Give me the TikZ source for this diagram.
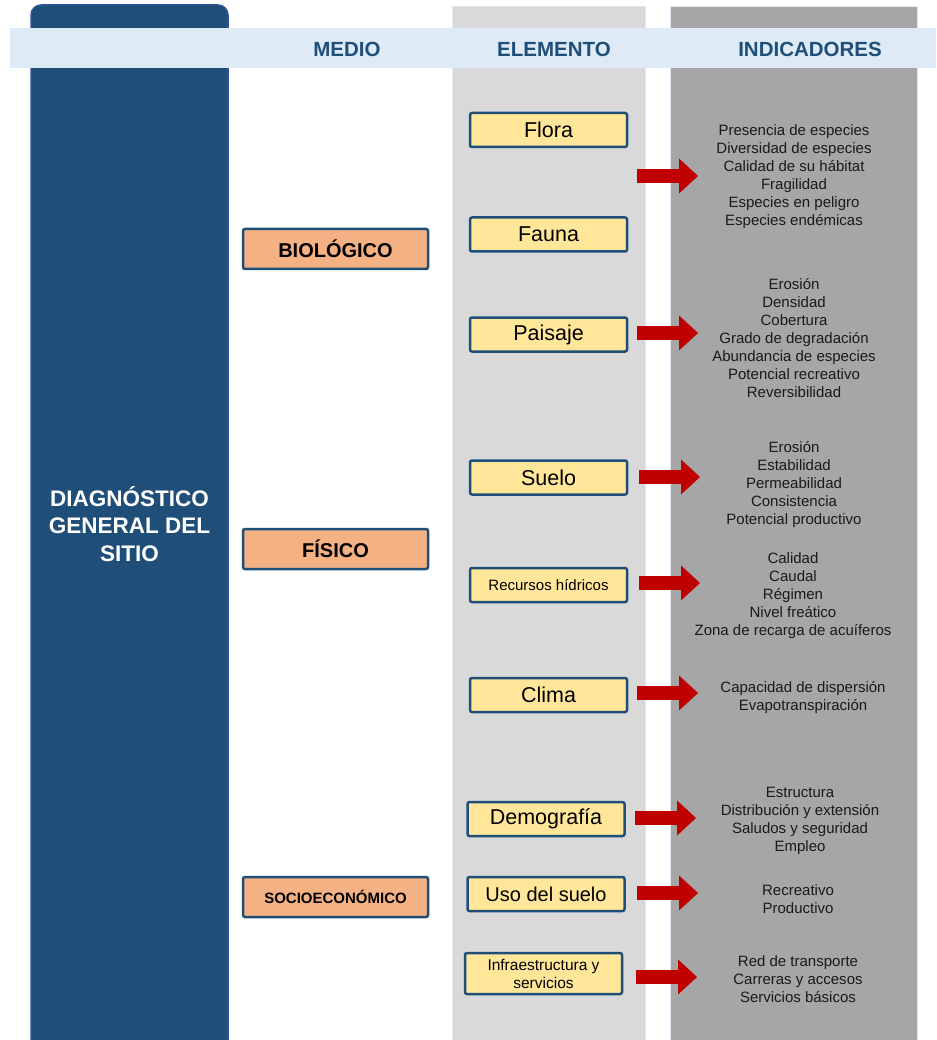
\documentclass[tikz,border=0pt]{standalone}
\usepackage{fontspec}
\setmainfont{Liberation Sans}
\usetikzlibrary{arrows.meta}
\definecolor{navy}{HTML}{1F4E79}
\definecolor{navyedge}{HTML}{2F5597}
\definecolor{band}{HTML}{DEEBF7}
\definecolor{colA}{HTML}{D9D9D9}
\definecolor{colB}{HTML}{A6A6A6}
\definecolor{medfill}{HTML}{F4B183}
\definecolor{elfill}{HTML}{FFE699}
\definecolor{arrowred}{HTML}{C00000}
\definecolor{inktext}{HTML}{1A1A1A}
\begin{document}
\begin{tikzpicture}[x=1pt,y=-1pt,
  head/.style={text=navy,font=\bfseries\fontsize{20.5}{24}\selectfont},
  medbox/.style={draw=navy,line width=2.5pt,fill=medfill,rounded corners=2pt,
    minimum width=185pt,minimum height=40pt,inner sep=0pt,
    font=\bfseries\fontsize{20}{24}\selectfont},
  elbox/.style={draw=navy,line width=2.5pt,fill=elfill,rounded corners=2pt,
    minimum width=157pt,minimum height=34pt,inner sep=0pt,align=center,
    font=\fontsize{21.5}{24}\selectfont},
  small/.style={font=\fontsize{15}{18}\selectfont},
  ind/.style={align=center,text=inktext,inner sep=0pt,font=\fontsize{15}{18}\selectfont},
  blockarrow/.style={draw=arrowred,line width=14pt,
    -{Triangle[width=35pt,length=19pt,line width=0pt]}}]
\useasboundingbox (0,0) rectangle (936,1040);
\clip (0,0) rectangle (936,1040);

% background columns
\filldraw[fill=navy,draw=navyedge,line width=1.5pt,rounded corners=10pt] (31,5) rectangle (228,1070);
\filldraw[fill=colA,draw=band,line width=1pt] (452,7) rectangle (645,1070);
\filldraw[fill=colB,draw=band,line width=1pt] (670,7) rectangle (917,1070);
% header band
\fill[band] (10,28) rectangle (936,68);
\node[head] (hmedio) at (347,49) {MEDIO};
\node[head] (helem) at (554,49) {ELEMENTO};
\node[head] (hind) at (810,49) {INDICADORES};

% main title
\node[text=white,align=center,font=\bfseries\fontsize{22.5}{27.5}\selectfont] (diag) at (129.5,524)
  {DIAGNÓSTICO\\GENERAL DEL\\SITIO};

% medio
\node[medbox] (bio) at (335.5,249) {BIOLÓGICO};
\node[medbox] (fis) at (335.5,549) {FÍSICO};
\node[medbox,font=\bfseries\fontsize{15}{18}\selectfont] (soc) at (335.5,897) {SOCIOECONÓMICO};

% elementos
\node[elbox] (flora) at (548.5,130) {Flora};
\node[elbox] (fauna) at (548.5,234.5) {Fauna};
\node[elbox] (paisaje) at (548.5,334.5) {Paisaje};
\node[elbox] (suelo) at (548.5,477.5) {Suelo};
\node[elbox,small] (hidro) at (548.5,585) {Recursos hídricos};
\node[elbox] (clima) at (548.5,695) {Clima};
\node[elbox] (demo) at (546,819) {Demografía};
\node[elbox,font=\fontsize{20}{24}\selectfont] (uso) at (546,894) {Uso del suelo};
\node[elbox,small,minimum height=41pt,font=\fontsize{15.5}{18}\selectfont] (infra) at (543.5,973.5) {Infraestructura y\\servicios};

% indicadores
\node[ind] (i1) at (794,176.5) {Presencia de especies\\Diversidad de especies\\Calidad de su hábitat\\Fragilidad\\Especies en peligro\\Especies endémicas};
\node[ind] (i2) at (794,338.5) {Erosión\\Densidad\\Cobertura\\Grado de degradación\\Abundancia de especies\\Potencial recreativo\\Reversibilidad};
\node[ind] (i3) at (794,484.5) {Erosión\\Estabilidad\\Permeabilidad\\Consistencia\\Potencial productivo};
\node[ind] (i4) at (793,595.5) {Calidad\\Caudal\\Régimen\\Nivel freático\\Zona de recarga de acuíferos};
\node[ind] (i5) at (803,697.5) {Capacidad de dispersión\\Evapotranspiración};
\node[ind] (i6) at (800,820.5) {Estructura\\Distribución y extensión\\Saludos y seguridad\\Empleo};
\node[ind] (i7) at (798,899.5) {Recreativo\\Productivo};
\node[ind] (i8) at (798,979.5) {Red de transporte\\Carreras y accesos\\Servicios básicos};

% arrows from elements to their indicators
\coordinate (a1s) at (637,176);  \coordinate (a1e) at (698,176);
\coordinate (a2s) at (637,333);  \coordinate (a2e) at (698,333);
\coordinate (a3s) at (639,477);  \coordinate (a3e) at (700,477);
\coordinate (a4s) at (639,583);  \coordinate (a4e) at (700,583);
\coordinate (a5s) at (637,693);  \coordinate (a5e) at (698,693);
\coordinate (a6s) at (635,818);  \coordinate (a6e) at (696,818);
\coordinate (a7s) at (637,893);  \coordinate (a7e) at (698,893);
\coordinate (a8s) at (636,977);  \coordinate (a8e) at (697,977);
\foreach \k in {1,...,8} \draw[blockarrow] (a\k s) -- (a\k e);
\end{tikzpicture}
\end{document}
